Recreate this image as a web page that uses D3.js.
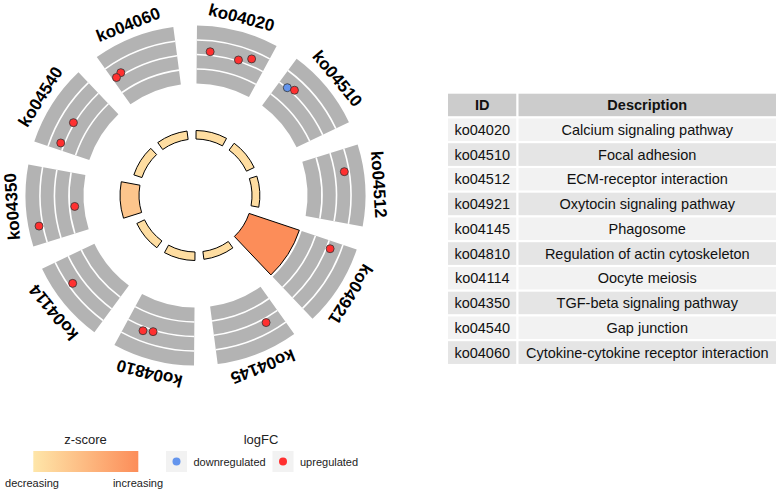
<!DOCTYPE html>
<html>
<head>
<meta charset="utf-8">
<script src="https://cdn.jsdelivr.net/npm/d3@7"></script>
<style>
  body { margin: 0; background: #fff; }
  text { font-family: "Liberation Sans", Arial, sans-serif; }
</style>
</head>
<body>
<svg id="chart" width="777" height="490"></svg>
<script>
// terms, clockwise from 12 o'clock
const terms = ["ko04020", "ko04510", "ko04512", "ko04921", "ko04145",
               "ko04810", "ko04114", "ko04350", "ko04540", "ko04060"];
const descriptions = ["Calcium signaling pathway", "Focal adhesion", "ECM-receptor interaction",
  "Oxytocin signaling pathway", "Phagosome", "Regulation of actin cytoskeleton",
  "Oocyte meiosis", "TGF-beta signaling pathway", "Gap junction",
  "Cytokine-cytokine receptor interaction"];
// inner bars: height = -log10(adj p), colour = z-score
const negLogP = [1.3, 1.3, 1.2, 8.1, 1.2, 1.3, 1.3, 2.9, 1.3, 1.3];
const zscore  = [1.2, 1.2, 1.2, 4.6, 1.2, 1.2, 1.2, 2.2, 1.2, 1.2];
// genes of every term: position inside the sector, |logFC|, direction
const genePos = [[0.19, 0.61, 0.78], [0.14, 0.24], [0.30], [0.11], [0.23],
                 [0.74, 0.60], [0.64], [0.44, 0.23], [0.44, 0.10], [0.15, 0.06]];
const geneLfc = [[2.24, 2.08, 2.46], [2.04, 2.24], [2.67], [2.26], [2.30],
                 [2.28, 2.11], [2.69], [0.64, 3.27], [2.08, 2.25], [2.19, 2.07]];
const geneDir = [["up", "up", "up"], ["down", "up"], ["up"], ["up"], ["up"],
                 ["up", "up"], ["up"], ["up", "up"], ["up", "up"], ["up", "up"]];
const lfcTicks = [1, 2, 3];

const svg = d3.select("#chart");
const cx = 195.5, cy = 195.5;
const rad = Math.PI / 180;
const step = 360 / terms.length;
const span = 28;

const g = svg.append("g").attr("transform", "translate(" + cx + "," + cy + ")");

// radial scale for the outer logFC ring
const rScale = d3.scaleLinear().domain([0, 4]).range([112, 170]);
// inner bar heights
const base = 56.5;
const hScale = d3.scaleLinear().domain([0, d3.max(negLogP)]).range([0, 53]);
const zColor = d3.scaleLinear().domain([0.8, 4.6]).range(["#FEE6A9", "#FC8D59"]);
const dirColor = {up: "#FF3030", down: "#6495ED"};

terms.forEach(function(t, i) {
    const a0 = (i * step + 0.5) * rad, a1 = (i * step + 0.5 + span) * rad;
    const aScale = d3.scaleLinear().domain([0, 1]).range([a0, a1]);

    // gray outer sector
    g.append("path")
        .attr("d", d3.arc()({innerRadius: rScale(0), outerRadius: rScale(4), startAngle: a0, endAngle: a1}))
        .attr("fill", "#B3B3B3");
    // white grid arcs
    lfcTicks.forEach(function(v) {
        g.append("path")
            .attr("d", d3.arc()({innerRadius: rScale(v) - 0.8, outerRadius: rScale(v) + 0.8, startAngle: a0, endAngle: a1}))
            .attr("fill", "#fff");
    });

    // inner bar
    g.append("path")
        .attr("d", d3.arc()({innerRadius: base, outerRadius: base + hScale(negLogP[i]), startAngle: a0, endAngle: a1}))
        .attr("fill", zColor(zscore[i]))
        .attr("stroke", "#000")
        .attr("stroke-width", 1);

    // genes
    genePos[i].forEach(function(p, j) {
        const a = aScale(p), r = rScale(geneLfc[i][j]);
        g.append("circle")
            .attr("cx", r * Math.sin(a))
            .attr("cy", -r * Math.cos(a))
            .attr("r", 4)
            .attr("fill", dirColor[geneDir[i][j]])
            .attr("stroke", "#333")
            .attr("stroke-width", 0.8);
    });

    // term label
    const am = (a0 + a1) / 2, lr = 183.5;
    g.append("text")
        .attr("transform", "translate(" + (lr * Math.sin(am)) + "," + (-lr * Math.cos(am)) + ") rotate(" + (am / rad) + ")")
        .attr("text-anchor", "middle")
        .attr("dominant-baseline", "central")
        .attr("font-size", 17)
        .attr("font-weight", "bold")
        .text(t);
});

// ---------- table ----------
const tx = 447, rowH = 24.75, ty = 92.7;
const colX = [tx, 517.5, 777];
const rows = [["ID", "Description"]].concat(terms.map(function(t, i) { return [t, descriptions[i]]; }));
const table = svg.append("g");
rows.forEach(function(row, r) {
    const y = ty + r * rowH;
    const fill = r === 0 ? "#CCCCCC" : (r % 2 === 1 ? "#F2F2F2" : "#E5E5E5");
    row.forEach(function(cell, c) {
        table.append("rect")
            .attr("x", colX[c]).attr("y", y)
            .attr("width", colX[c + 1] - colX[c]).attr("height", rowH)
            .attr("fill", fill)
            .attr("stroke", "#fff").attr("stroke-width", 2);
        table.append("text")
            .attr("x", (colX[c] + colX[c + 1]) / 2)
            .attr("y", y + rowH / 2)
            .attr("text-anchor", "middle")
            .attr("dominant-baseline", "central")
            .attr("font-size", 14.5)
            .attr("font-weight", r === 0 ? "bold" : "normal")
            .attr("fill", "#111")
            .text(cell);
    });
});

// ---------- legends ----------
const defs = svg.append("defs");
const grad = defs.append("linearGradient").attr("id", "zgrad");
grad.append("stop").attr("offset", "0%").attr("stop-color", zColor(0.8));
grad.append("stop").attr("offset", "100%").attr("stop-color", zColor(4.6));

const leg = svg.append("g");
leg.append("text").attr("x", 85.5).attr("y", 444).attr("text-anchor", "middle")
    .attr("font-size", 13).attr("fill", "#222").text("z-score");
leg.append("rect").attr("x", 33.3).attr("y", 451).attr("width", 105).attr("height", 21)
    .attr("fill", "url(#zgrad)");
leg.append("text").attr("x", 32).attr("y", 487).attr("text-anchor", "middle")
    .attr("font-size", 11).attr("fill", "#222").text("decreasing");
leg.append("text").attr("x", 138).attr("y", 487).attr("text-anchor", "middle")
    .attr("font-size", 11).attr("fill", "#222").text("increasing");

leg.append("text").attr("x", 261).attr("y", 444).attr("text-anchor", "middle")
    .attr("font-size", 13).attr("fill", "#222").text("logFC");
const keys = [{x: 166, dir: "down", label: "downregulated"}, {x: 272.5, dir: "up", label: "upregulated"}];
keys.forEach(function(k) {
    leg.append("rect").attr("x", k.x).attr("y", 451).attr("width", 21).attr("height", 21).attr("fill", "#F2F2F2");
    leg.append("circle").attr("cx", k.x + 10.5).attr("cy", 461.5).attr("r", 4).attr("fill", dirColor[k.dir]);
    leg.append("text").attr("x", k.x + 27.5).attr("y", 465.5).attr("font-size", 11).attr("fill", "#222").text(k.label);
});
</script>
</body>
</html>
